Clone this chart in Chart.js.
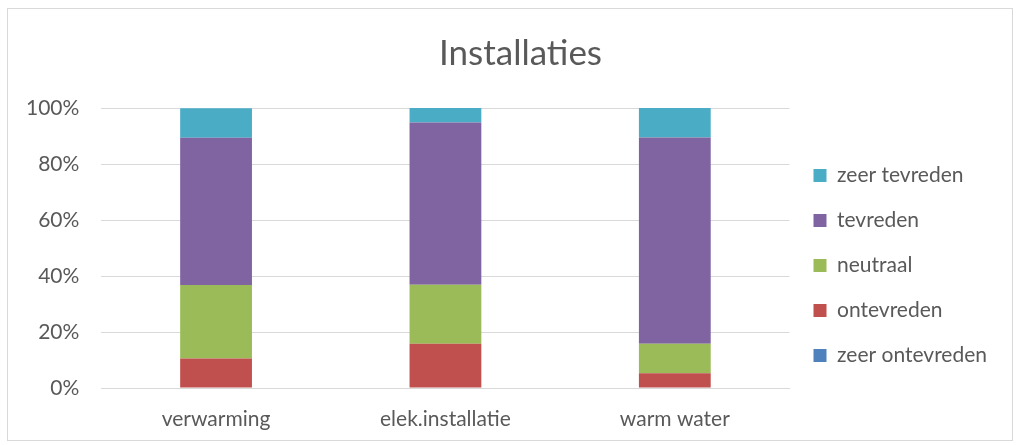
<!DOCTYPE html>
<html>
<head>
<meta charset="utf-8">
<script src="https://cdn.jsdelivr.net/npm/chart.js@4"></script>
<style>
    html, body { margin: 0; padding: 0; background: #fff; }
    #frame { position: absolute; left: 7px; top: 8px; width: 1004px; height: 431px; border: 1px solid #d9d9d9; }
    #wrap { position: absolute; left: 0; top: 0; width: 1019px; height: 445px; }
</style>
</head>
<body>
<div id="frame"></div>
<div id="wrap"><canvas id="chart" width="1019" height="445"></canvas></div>
<script>
// categories and series (percent of respondents)
const categories = ['verwarming', 'elek.installatie', 'warm water'];
const zeerOntevreden = [0, 0, 0];
const ontevreden = [10.5, 15.8, 5.3];
const neutraal = [26.3, 21.1, 10.5];
const tevreden = [52.6, 57.9, 73.7];
const zeerTevreden = [10.5, 5.3, 10.5];
const yTicks = [0, 20, 40, 60, 80, 100];

const FONT = 'Lato, "Open Sans", sans-serif';
const GREY = '#595959';

const mk = (label, data, color) => ({
    label, data, backgroundColor: color, borderWidth: 0,
    barPercentage: 0.313, categoryPercentage: 1
});

// the title is centred on the whole frame, not on the room left of the legend
const titleShift = {
    id: 'titleShift',
    afterLayout(chart) {
        chart.titleBlock.left += 20;
        chart.titleBlock.right += 20;
    }
};

new Chart(document.getElementById('chart').getContext('2d'), {
    type: 'bar',
    data: {
        labels: categories,
        datasets: [
            mk('zeer ontevreden', zeerOntevreden, '#4F81BD'),
            mk('ontevreden', ontevreden, '#C0504D'),
            mk('neutraal', neutraal, '#9BBB59'),
            mk('tevreden', tevreden, '#8064A2'),
            mk('zeer tevreden', zeerTevreden, '#4BACC6')
        ]
    },
    plugins: [titleShift],
    options: {
        responsive: false,
        animation: false,
        layout: { padding: { left: 4, right: 22, top: 20, bottom: 2 } },
        plugins: {
            title: {
                display: true, text: 'Installaties', color: GREY,
                font: { family: FONT, size: 35, weight: 'normal' },
                padding: { top: 13, bottom: 33 }
            },
            legend: {
                position: 'right',
                reverse: true,
                // blank title only pushes the items down
                title: { display: true, text: ' ', font: { size: 1 }, padding: { top: 67, bottom: 0 } },
                labels: {
                    color: GREY,
                    font: { family: FONT, size: 21 },
                    boxWidth: 13, boxHeight: 13,
                    padding: 24
                }
            },
            tooltip: { enabled: false }
        },
        scales: {
            x: {
                stacked: true,
                grid: { display: false },
                border: { display: true, color: '#d9d9d9' },
                ticks: { color: GREY, font: { family: FONT, size: 21, lineHeight: 1 }, padding: 13 }
            },
            y: {
                stacked: true,
                min: 0, max: 100,
                afterBuildTicks: axis => { axis.ticks = yTicks.map(v => ({ value: v })); },
                grid: { color: '#d9d9d9', drawTicks: false },
                border: { display: false },
                ticks: { color: GREY, font: { family: FONT, size: 21 }, padding: 22, callback: v => v + '%' }
            }
        }
    }
});
</script>
</body>
</html>
